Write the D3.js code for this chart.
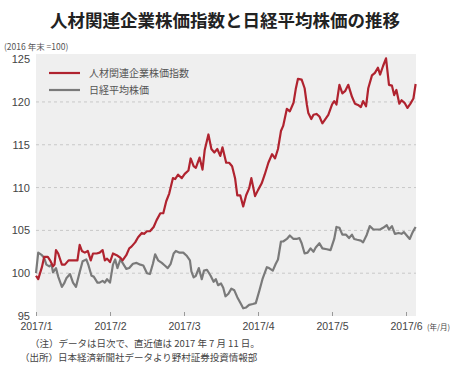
<!DOCTYPE html>
<html>
<head>
<meta charset="utf-8">
<script src="https://cdn.jsdelivr.net/npm/d3@7"></script>
<style>
  body { margin: 0; background: #fff; }
  text { font-family: "Noto Sans CJK JP", "Noto Sans", sans-serif; }
</style>
</head>
<body>
<div id="chart"></div>
<script>
// month offsets from 2017/1 (x) and index values (2016 year end = 100)
var jinzaiT = [0, 0.03, 0.08, 0.11, 0.16, 0.19, 0.23, 0.25, 0.27, 0.30, 0.35, 0.39, 0.44, 0.48, 0.53, 0.56, 0.59, 0.62, 0.66, 0.70,
    0.74, 0.77, 0.82, 0.86, 0.90, 0.93, 0.96, 1.00, 1.04, 1.09, 1.14, 1.17, 1.22, 1.26, 1.29, 1.34, 1.38, 1.43, 1.46, 1.50,
    1.54, 1.59, 1.63, 1.68, 1.72, 1.76, 1.80, 1.85, 1.88, 1.92, 1.97, 2.01, 2.06, 2.09, 2.13, 2.16, 2.21, 2.25, 2.28, 2.33,
    2.37, 2.41, 2.45, 2.49, 2.52, 2.57, 2.61, 2.65, 2.69, 2.72, 2.76, 2.80, 2.84, 2.88, 2.91, 2.96, 3.00, 3.05, 3.09, 3.14,
    3.19, 3.23, 3.27, 3.31, 3.34, 3.39, 3.43, 3.48, 3.51, 3.54, 3.59, 3.63, 3.66, 3.68, 3.72, 3.75, 3.79, 3.83, 3.87, 3.91,
    3.95, 4.00, 4.03, 4.06, 4.10, 4.14, 4.18, 4.22, 4.27, 4.31, 4.36, 4.39, 4.42, 4.46, 4.49, 4.54, 4.58, 4.62, 4.65, 4.69,
    4.73, 4.77, 4.81, 4.84, 4.87, 4.91, 4.94, 4.98, 5.02, 5.06, 5.10, 5.13];
var jinzai = [99.7, 99.3, 100.7, 101.9, 101.9, 101.5, 100.8, 101, 102.7, 102.3, 101, 101, 101.5, 101.5, 101.5, 101.5, 103.3, 102.6, 102.4, 102.6,
    101.5, 102.3, 102.3, 102.4, 102.7, 101.5, 101.7, 101.3, 102.3, 102.1, 101.8, 101.5, 102.1, 102.9, 103.1, 103.6, 104.2, 104.7, 104.6, 104.9,
    104.9, 105.4, 106.2, 107, 107, 108.4, 109.3, 111.1, 111, 111.5, 111.1, 111.6, 112, 113.4, 112.5, 112.3, 113.5, 112.1, 114.4, 116.2,
    114.5, 114.1, 114.5, 113.7, 114.7, 112.9, 112.9, 112.5, 111.1, 109.1, 109.1, 107.8, 109.1, 109.9, 111.1, 109, 109.7, 110.5, 111.5, 112.9,
    113.9, 113.4, 114.5, 116.6, 117.2, 119.2, 118.9, 119.9, 121.5, 122.7, 122.6, 121.6, 119.7, 118.7, 118, 118.5, 118.6, 118.3, 117.5, 118,
    118.5, 119.7, 120.1, 119.7, 122, 121, 121.3, 122, 120.6, 119.8, 119.6, 119.4, 120.1, 119.5, 121.6, 123.1, 123.4, 124, 123.2, 124.2,
    125.1, 122, 121.9, 120.8, 121.4, 119.8, 120.2, 119.9, 119.3, 119.8, 120.4, 122.1];

var nikkeiT = [0, 0.03, 0.08, 0.11, 0.14, 0.18, 0.21, 0.23, 0.27, 0.30, 0.35, 0.38, 0.41, 0.46, 0.50, 0.54, 0.59, 0.63, 0.68, 0.71,
    0.75, 0.78, 0.83, 0.86, 0.90, 0.93, 0.96, 1.00, 1.04, 1.07, 1.10, 1.14, 1.17, 1.22, 1.26, 1.31, 1.36, 1.41, 1.45, 1.50,
    1.54, 1.58, 1.61, 1.65, 1.70, 1.74, 1.78, 1.82, 1.86, 1.89, 1.94, 1.99, 2.04, 2.08, 2.10, 2.13, 2.16, 2.20, 2.24, 2.27,
    2.31, 2.36, 2.40, 2.43, 2.46, 2.50, 2.53, 2.56, 2.60, 2.64, 2.68, 2.72, 2.77, 2.80, 2.84, 2.88, 2.93, 2.97, 3.02, 3.06,
    3.12, 3.15, 3.20, 3.24, 3.27, 3.31, 3.34, 3.39, 3.43, 3.48, 3.52, 3.56, 3.59, 3.63, 3.67, 3.71, 3.75, 3.78, 3.83, 3.87,
    3.93, 3.98, 4.03, 4.06, 4.10, 4.14, 4.19, 4.23, 4.27, 4.30, 4.34, 4.39, 4.42, 4.47, 4.51, 4.56, 4.60, 4.65, 4.69, 4.74,
    4.77, 4.81, 4.85, 4.90, 4.94, 4.97, 5.01, 5.05, 5.09, 5.13];
var nikkei = [100, 102.4, 102.1, 101.8, 101, 100.8, 101, 100.1, 100.6, 99.6, 98.4, 98.8, 99.4, 99.9, 98.9, 98.4, 100.1, 101.4, 101.6, 100.9,
    99.7, 99.6, 98.9, 98.9, 99.1, 98.9, 99.3, 98.9, 101, 101.6, 100.6, 101.6, 101.2, 100.5, 100.6, 101.1, 101.2, 101, 100.9, 100,
    99.9, 101.1, 102.2, 101.5, 101.2, 100.9, 100.6, 101.1, 102.3, 102.6, 102.4, 102.4, 102, 101.5, 100.2, 99.5, 99.7, 100.6, 99.3, 100.3,
    100.4, 99.7, 99, 99.3, 98.6, 98.8, 98.3, 97.3, 97.6, 98.2, 98, 97.2, 96.4, 95.9, 96, 96.3, 96.4, 96.5, 98, 99.3,
    100.7, 100.6, 100.3, 101.1, 101.6, 103.7, 103.7, 104, 104.4, 104, 104, 104.1, 103.5, 102.3, 102.4, 102.9, 102.5, 103, 103.5, 102.9,
    102.8, 102.7, 104, 105.4, 105.3, 104.5, 104.5, 104.1, 104.5, 104, 103.9, 103.8, 103.6, 104.5, 105.5, 105.1, 105.1, 105.1, 105.3, 105.6,
    105.1, 105.5, 104.6, 104.7, 104.6, 104.8, 104.4, 104, 104.8, 105.4];

var monthLabels = ["2017/1", "2017/2", "2017/3", "2017/4", "2017/5", "2017/6"];
var yTicks = [95, 100, 105, 110, 115, 120, 125];
var seriesNames = ["人材関連企業株価指数", "日経平均株価"];

var margin = { top: 54, right: 34, bottom: 57, left: 36 },
    width = 450 - margin.left - margin.right,
    height = 373 - margin.top - margin.bottom;

var svg = d3.select("#chart")
    .append("svg")
    .attr("width", 450)
    .attr("height", 373);

svg.append("text")
    .attr("x", 225)
    .attr("y", 27)
    .attr("text-anchor", "middle")
    .attr("font-size", 17.5)
    .attr("font-weight", "bold")
    .attr("fill", "#222")
    .text("人材関連企業株価指数と日経平均株価の推移");

svg.append("text")
    .attr("x", 4)
    .attr("y", 50)
    .attr("font-size", 8.5)
    .attr("fill", "#555")
    .text("(2016 年末 =100)");

var chart = svg.append("g")
    .attr("transform", "translate(" + margin.left + "," + margin.top + ")");

var x = d3.scaleLinear()
    .domain([0, 5.135])
    .range([0, width]);

var y = d3.scaleLinear()
    .domain([95, 125.6])
    .range([height, 0]);

chart.append("rect")
    .attr("width", width)
    .attr("height", height)
    .attr("fill", "#efefef");

// dashed grid
chart.selectAll(".grid")
    .data(yTicks.filter(function (d) { return d > 95 && d < 125; }))
    .enter().append("line")
    .attr("x1", 0)
    .attr("x2", width)
    .attr("y1", function (d) { return y(d); })
    .attr("y2", function (d) { return y(d); })
    .attr("stroke", "#c8c8c8")
    .attr("stroke-width", 1)
    .attr("stroke-dasharray", "3,3");

var yAxis = chart.append("g")
    .call(d3.axisLeft(y).tickValues(yTicks).tickSize(0).tickPadding(6));
yAxis.select(".domain").remove();
yAxis.selectAll("text")
    .attr("font-size", 11)
    .attr("fill", "#444")
    .style("font-family", "Liberation Sans, Arial, sans-serif");

var xAxis = chart.append("g")
    .attr("transform", "translate(0," + height + ")")
    .call(d3.axisBottom(x)
        .tickValues(d3.range(monthLabels.length))
        .tickFormat(function (d) { return monthLabels[d]; })
        .tickSize(4)
        .tickPadding(3));
xAxis.select(".domain").remove();
xAxis.selectAll("line").attr("stroke", "#999").attr("transform", "translate(0,-4)");
xAxis.selectAll("text")
    .attr("font-size", 10.5)
    .attr("fill", "#444")
    .style("font-family", "Liberation Sans, Arial, sans-serif");

svg.append("text")
    .attr("x", margin.left + x(5) + 21)
    .attr("y", margin.top + height + 14)
    .attr("font-size", 7.5)
    .attr("fill", "#444")
    .text("(年/月)");

var line = d3.line()
    .x(function (d) { return x(d[0]); })
    .y(function (d) { return y(d[1]); });

var nikkeiData = d3.zip(nikkeiT, nikkei);
var jinzaiData = d3.zip(jinzaiT, jinzai);

chart.append("path")
    .datum(nikkeiData)
    .attr("fill", "none")
    .attr("stroke", "#7a7a7a")
    .attr("stroke-width", 2.2)
    .attr("stroke-linejoin", "round")
    .attr("d", line);

chart.append("path")
    .datum(jinzaiData)
    .attr("fill", "none")
    .attr("stroke", "#b0232f")
    .attr("stroke-width", 2.2)
    .attr("stroke-linejoin", "round")
    .attr("d", line);

// legend
var colors = ["#b0232f", "#7a7a7a"];
var legend = chart.selectAll(".legend")
    .data(seriesNames)
    .enter().append("g")
    .attr("transform", function (d, i) { return "translate(13," + (19 + i * 17) + ")"; });
legend.append("line")
    .attr("x1", 0)
    .attr("x2", 31)
    .attr("stroke", function (d, i) { return colors[i]; })
    .attr("stroke-width", 2.2);
legend.append("text")
    .attr("x", 40)
    .attr("y", 4)
    .attr("font-size", 10)
    .attr("fill", "#555")
    .text(function (d) { return d; });

// notes
svg.append("text")
    .attr("x", 30)
    .attr("y", 347)
    .attr("font-size", 9.5)
    .attr("fill", "#444")
    .text("（注）データは日次で、直近値は 2017 年 7 月 11 日。");
svg.append("text")
    .attr("x", 20)
    .attr("y", 361)
    .attr("font-size", 9.5)
    .attr("fill", "#444")
    .text("（出所）日本経済新聞社データより野村証券投資情報部");
</script>
</body>
</html>
